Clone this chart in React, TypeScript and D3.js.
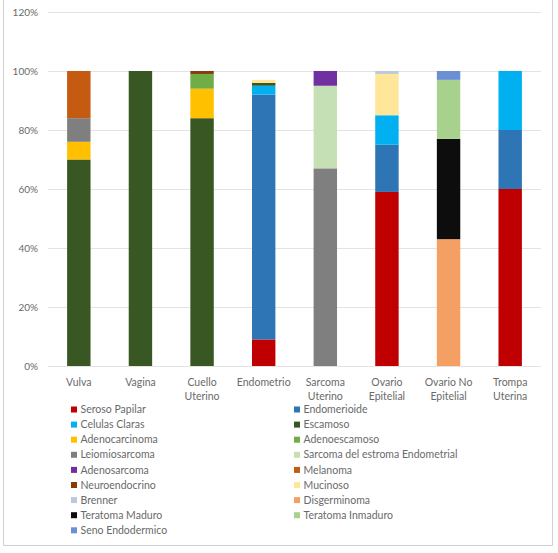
import React from "react";
import * as d3 from "d3";

const categories = [
  "Vulva",
  "Vagina",
  "Cuello Uterino",
  "Endometrio",
  "Sarcoma Uterino",
  "Ovario Epitelial",
  "Ovario No Epitelial",
  "Trompa Uterina",
];
const categoryLines = [
  ["Vulva"],
  ["Vagina"],
  ["Cuello", "Uterino"],
  ["Endometrio"],
  ["Sarcoma", "Uterino"],
  ["Ovario", "Epitelial"],
  ["Ovario No", "Epitelial"],
  ["Trompa", "Uterina"],
];

const seriesNames = [
  "Seroso Papilar",
  "Endomerioide",
  "Celulas Claras",
  "Escamoso",
  "Adenocarcinoma",
  "Adenoescamoso",
  "Leiomiosarcoma",
  "Sarcoma del estroma Endometrial",
  "Adenosarcoma",
  "Melanoma",
  "Neuroendocrino",
  "Mucinoso",
  "Brenner",
  "Disgerminoma",
  "Teratoma Maduro",
  "Teratoma Inmaduro",
  "Seno Endodermico",
];
const seriesColors = [
  "#C00000",
  "#2E75B6",
  "#00B0F0",
  "#385723",
  "#FFC000",
  "#70AD47",
  "#7F7F7F",
  "#C5E0B4",
  "#7030A0",
  "#C55A11",
  "#843C0C",
  "#FFE699",
  "#BDC9DA",
  "#F4A065",
  "#0D0D0D",
  "#A9D18E",
  "#6A8FD3",
];

// values per series (percent), in category order
const serosoPapilar = [0, 0, 0, 9, 0, 59, 0, 60];
const endomerioide = [0, 0, 0, 83, 0, 16, 0, 20];
const celulasClaras = [0, 0, 0, 3, 0, 10, 0, 20];
const escamoso = [70, 100, 84, 1, 0, 0, 0, 0];
const adenocarcinoma = [6, 0, 10, 0, 0, 0, 0, 0];
const adenoescamoso = [0, 0, 5, 0, 0, 0, 0, 0];
const leiomiosarcoma = [8, 0, 0, 0, 67, 0, 0, 0];
const sarcomaEstroma = [0, 0, 0, 0, 28, 0, 0, 0];
const adenosarcoma = [0, 0, 0, 0, 5, 0, 0, 0];
const melanoma = [16, 0, 0, 0, 0, 0, 0, 0];
const neuroendocrino = [0, 0, 1, 0, 0, 0, 0, 0];
const mucinoso = [0, 0, 0, 1, 0, 14, 0, 0];
const brenner = [0, 0, 0, 0, 0, 1, 0, 0];
const disgerminoma = [0, 0, 0, 0, 0, 0, 43, 0];
const teratomaMaduro = [0, 0, 0, 0, 0, 0, 34, 0];
const teratomaInmaduro = [0, 0, 0, 0, 0, 0, 20, 0];
const senoEndodermico = [0, 0, 0, 0, 0, 0, 3, 0];

const seriesValues = [
  serosoPapilar,
  endomerioide,
  celulasClaras,
  escamoso,
  adenocarcinoma,
  adenoescamoso,
  leiomiosarcoma,
  sarcomaEstroma,
  adenosarcoma,
  melanoma,
  neuroendocrino,
  mucinoso,
  brenner,
  disgerminoma,
  teratomaMaduro,
  teratomaInmaduro,
  senoEndodermico,
];

const yTicks = [0, 20, 40, 60, 80, 100, 120];

const W = 558;
const H = 553;
const FONT = "Lato, 'Open Sans', sans-serif";
const TEXT = "#6A6A6A";

export default function App() {
  const plotLeft = 48;
  const plotRight = 541;
  const plotTop = 12;
  const plotBottom = 366;

  const x = d3
    .scaleBand<string>()
    .domain(categories)
    .range([plotLeft, plotRight])
    .paddingInner(0.62)
    .paddingOuter(0.31);
  const y = d3.scaleLinear().domain([0, 120]).range([plotBottom, plotTop]);

  const rows = categories.map((c, i) => {
    const r: Record<string, number | string> = { cat: c };
    seriesNames.forEach((s, k) => (r[s] = seriesValues[k][i]));
    return r;
  });
  const stacked = d3.stack<any>().keys(seriesNames)(rows);

  const legendRowH = 15.1;
  const legendTop = 409.5;
  const legendCols = [71, 294];

  return (
    <svg
      width={W}
      height={H}
      style={{ position: "absolute", left: 0, top: 0, background: "#fff" }}
      fontFamily={FONT}
    >
      <rect x={0} y={0} width={W} height={H} fill="#fff" />
      {/* chart border */}
      <path
        d={`M3.5,0 V545.5 H552.5 V0`}
        fill="none"
        stroke="#D0D0D0"
        strokeWidth={1}
      />
      {/* gridlines & ticks */}
      {yTicks.map((t) => (
        <g key={t}>
          <line
            x1={plotLeft}
            x2={plotRight}
            y1={Math.round(y(t)) + 0.5}
            y2={Math.round(y(t)) + 0.5}
            stroke="#E3E3E3"
            strokeWidth={1}
          />
          <text
            x={38}
            y={y(t)}
            dy="0.35em"
            textAnchor="end"
            fontSize={10}
            fill={TEXT}
          >
            {t}%
          </text>
        </g>
      ))}
      {/* bars */}
      {stacked.map((layer, k) => (
        <g key={seriesNames[k]} fill={seriesColors[k]}>
          {layer.map((d, i) =>
            d[1] - d[0] > 0 ? (
              <rect
                key={i}
                x={x(categories[i])}
                y={y(d[1])}
                width={x.bandwidth()}
                height={y(d[0]) - y(d[1])}
              />
            ) : null
          )}
        </g>
      ))}
      {/* category labels */}
      {categories.map((c, i) => (
        <text
          key={c}
          x={(x(c) as number) + x.bandwidth() / 2}
          y={386}
          textAnchor="middle"
          fontSize={10.5}
          fill={TEXT}
        >
          {categoryLines[i].map((line, j) => (
            <tspan key={j} x={(x(c) as number) + x.bandwidth() / 2} dy={j === 0 ? 0 : 14}>
              {line}
            </tspan>
          ))}
        </text>
      ))}
      {/* legend */}
      {seriesNames.map((s, k) => {
        const col = k % 2;
        const row = Math.floor(k / 2);
        const lx = legendCols[col];
        const ly = legendTop + row * legendRowH;
        return (
          <g key={s}>
            <rect x={lx} y={ly - 3} width={6} height={6} fill={seriesColors[k]} />
            <text x={lx + 9.5} y={ly} dy="0.35em" fontSize={10.5} fill={TEXT}>
              {s}
            </text>
          </g>
        );
      })}
    </svg>
  );
}
